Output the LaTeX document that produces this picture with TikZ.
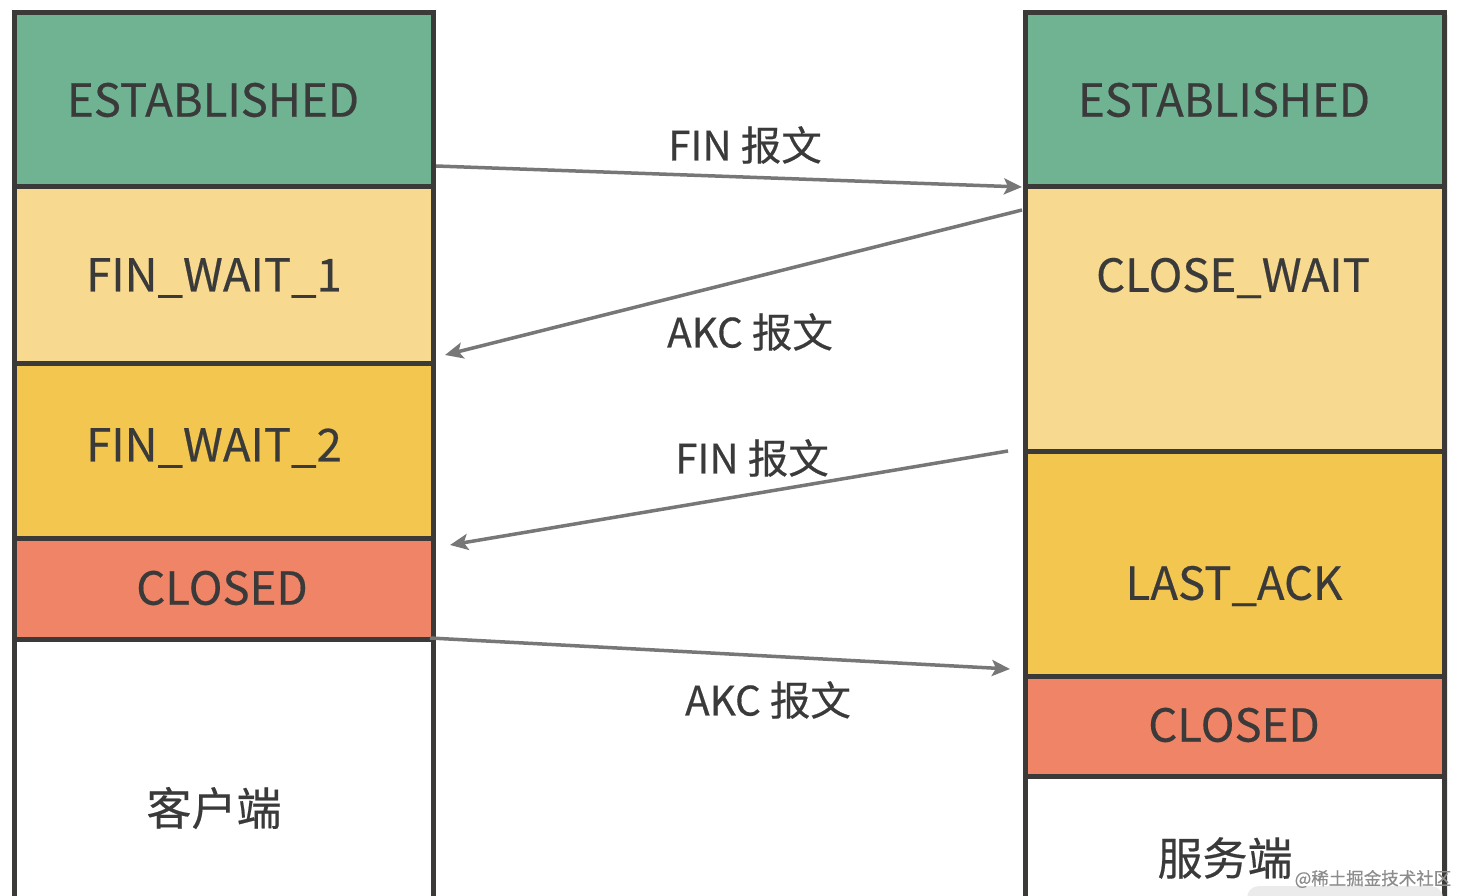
\documentclass[tikz,border=0pt]{standalone}
\usepackage{fontspec}
\setmainfont[FakeBold=0.4]{Noto Sans CJK SC}
\usetikzlibrary{arrows.meta,shadows}
\definecolor{cgreen}{HTML}{6FB393}
\definecolor{clight}{HTML}{F7DA90}
\definecolor{cyel}{HTML}{F2C64F}
\definecolor{corange}{HTML}{EF8466}
\definecolor{cborder}{HTML}{3C3A38}
\definecolor{ctext}{HTML}{3A3A3A}
\definecolor{carrow}{HTML}{777777}
\begin{document}
\begin{tikzpicture}[x=1pt,y=-1pt,
  box/.style={draw=cborder, line width=5pt, rectangle, inner sep=0pt, outer sep=0pt,
    anchor=north west, drop shadow={shadow xshift=3pt, shadow yshift=-3pt, opacity=0.18}},
  st/.style={text=ctext, font=\fontsize{45.5}{52}\selectfont, inner sep=0pt},
  cj/.style={text=ctext, font=\fontsize{45}{50}\selectfont, inner sep=0pt},
  lab/.style={text=ctext, font=\fontsize{40.5}{46}\selectfont, inner sep=0pt},
  arr/.style={draw=carrow, line width=3.5pt, -{Stealth[length=18pt,width=16pt,inset=4pt]}}
]
\clip (0,0) rectangle (1460,896);
\fill[white] (0,0) rectangle (1460,896);

% left column (client)
\node[box, fill=cgreen, minimum width=418.5pt, minimum height=174.5pt] (lEst) at (14.5,12.5) {};
\node[box, fill=clight, minimum width=418.5pt, minimum height=176pt] (lFw1) at (14.5,187) {};
\node[box, fill=cyel, minimum width=418.5pt, minimum height=175.5pt] (lFw2) at (14.5,363) {};
\node[box, fill=corange, minimum width=418.5pt, minimum height=100.5pt] (lClo) at (14.5,538.5) {};
\node[box, fill=white, minimum width=418.5pt, minimum height=290pt] (lCli) at (14.5,639) {};

% right column (server)
\node[box, fill=cgreen, minimum width=419pt, minimum height=174.5pt] (rEst) at (1025.5,12.5) {};
\node[box, fill=clight, minimum width=419pt, minimum height=264pt] (rCw) at (1025.5,187) {};
\node[box, fill=cyel, minimum width=419pt, minimum height=225pt] (rLa) at (1025.5,451) {};
\node[box, fill=corange, minimum width=419pt, minimum height=100pt] (rClo) at (1025.5,676) {};
\node[box, fill=white, minimum width=419pt, minimum height=150pt] (rSrv) at (1025.5,776) {};

% state texts
\node[st] (tlEst) at (213,100) {ESTABLISHED};
\node[st] (tlFw1) at (214,278) {FIN\_WAIT\_1};
\node[st] (tlFw2) at (214,448) {FIN\_WAIT\_2};
\node[st] (tlClo) at (222,588) {CLOSED};
\node[cj] (tlCli) at (214,808) {客户端};
\node[st] (trEst) at (1224,100) {ESTABLISHED};
\node[st] (trCw) at (1233,278) {CLOSE\_WAIT};
\node[st] (trLa) at (1234,586) {LAST\_ACK};
\node[st] (trClo) at (1234,725) {CLOSED};
\node[cj] (trSrv) at (1225,858) {服务端};

% arrows
\coordinate (a1s) at (436,166); \coordinate (a1e) at (1022,187);
\coordinate (a2s) at (1022,210); \coordinate (a2e) at (445,355);
\coordinate (a3s) at (1008,451); \coordinate (a3e) at (450,545);
\coordinate (a4s) at (430,638); \coordinate (a4e) at (1010,669);
\draw[arr] (a1s) -- (a1e);
\draw[arr] (a2s) -- (a2e);
\draw[arr] (a3s) -- (a3e);
\draw[arr] (a4s) -- (a4e);

\node[lab] (m1) at (745,145) {FIN 报文};
\node[lab] (m2) at (750,332) {AKC 报文};
\node[lab] (m3) at (752,458) {FIN 报文};
\node[lab] (m4) at (768,700) {AKC 报文};

% watermark
\fill[black!8, rounded corners=12pt] (1247,886) rectangle (1443,930);
\node[text=black!45, font=\fontsize{17.5}{20}\selectfont, inner sep=0pt] (wm) at (1373,879) {@稀土掘金技术社区};
\end{tikzpicture}
\end{document}
